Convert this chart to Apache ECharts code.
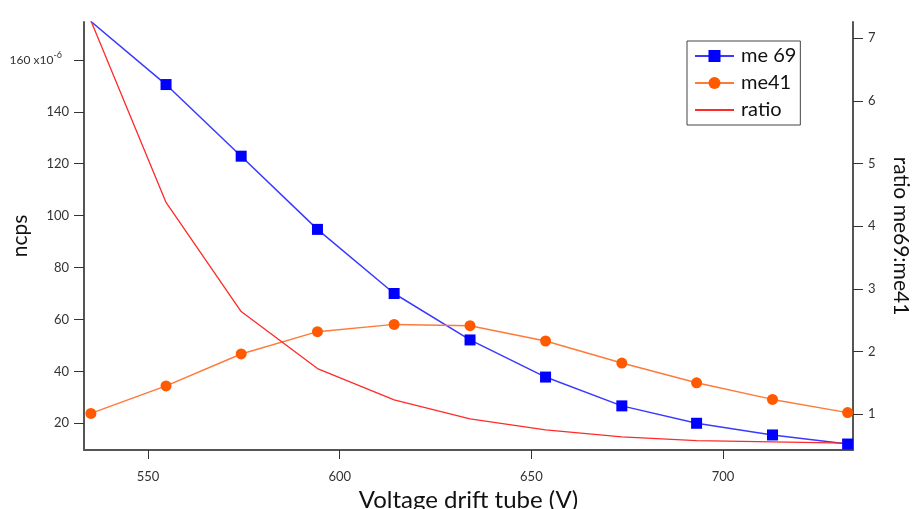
<!DOCTYPE html>
<html>
<head>
<meta charset="utf-8">
<script src="https://cdn.jsdelivr.net/npm/echarts@6/dist/echarts.min.js"></script>
<style>
  html, body { margin: 0; padding: 0; background: #fff; }
  #chart { width: 913px; height: 509px; }
</style>
</head>
<body>
<div id="chart"></div>
<script>
// voltage drift tube (V)
var voltage = [535.1, 554.7, 574.3, 594.2, 614.2, 634.0, 653.7, 673.6, 693.1, 712.9, 732.5];
// ncps (x10^-6)
var me69 = [174.8, 150.5, 122.9, 94.7, 70.0, 52.1, 37.8, 26.7, 20.0, 15.5, 12.0];
var me41 = [23.8, 34.4, 46.7, 55.3, 58.1, 57.6, 51.7, 43.2, 35.6, 29.2, 24.1];
// ratio me69:me41
var ratio = [7.28, 4.38, 2.64, 1.73, 1.23, 0.925, 0.75, 0.64, 0.58, 0.56, 0.54];

var xTicks = [550, 600, 650, 700];
var leftTicks = [20, 40, 60, 80, 100, 120, 140, 160];
var rightTicks = [1, 2, 3, 4, 5, 6, 7];

function pairs(ys) {
  return voltage.map(function (x, i) { return [x, ys[i]]; });
}

var font = 'Lato';
var axisColor = '#555';

var chart = echarts.init(document.getElementById('chart'));
chart.setOption({
  animation: false,
  textStyle: { fontFamily: font },
  grid: { left: 84, right: 60, top: 22, bottom: 59, outerBoundsMode: 'none', containLabel: false },
  legend: {
    orient: 'vertical',
    left: 687, top: 41,
    padding: [4, 4, 4, 7],
    itemGap: 5,
    itemWidth: 39, itemHeight: 15,
    borderColor: '#444', borderWidth: 1,
    textStyle: { fontSize: 20, lineHeight: 22, color: '#111', fontFamily: font, padding: [0, 0, 0, 2] },
    data: ['me 69', 'me41', { name: 'ratio', itemStyle: { opacity: 0 } }]
  },
  xAxis: {
    type: 'value',
    min: 533.3, max: 733.9,
    name: 'Voltage drift tube (V)',
    nameLocation: 'middle', nameGap: 38, nameMoveOverlap: false,
    nameTextStyle: { fontSize: 24, color: '#111' },
    splitLine: { show: false },
    axisLine: { lineStyle: { color: axisColor, width: 2 } },
    axisTick: { length: 9, customValues: xTicks, lineStyle: { color: '#333' } },
    axisLabel: { customValues: xTicks, fontSize: 13, color: '#333', margin: 20 }
  },
  yAxis: [{
    type: 'value',
    position: 'left',
    min: 9.7, max: 174.6,
    name: 'ncps',
    nameLocation: 'middle', nameGap: 53, nameMoveOverlap: false,
    nameTextStyle: { fontSize: 21, color: '#111' },
    splitLine: { show: false },
    axisLine: { show: true, lineStyle: { color: axisColor, width: 2 } },
    axisTick: { show: true, length: 10, customValues: leftTicks, lineStyle: { color: '#333' } },
    axisLabel: {
      customValues: leftTicks, fontSize: 13, color: '#333', margin: 15,
      formatter: function (v) { return v === 160 ? '{s|160 x10}{sup|-6}' : v; },
      rich: {
        s: { fontSize: 12, color: '#333', fontFamily: font },
        sup: { fontSize: 9, color: '#333', verticalAlign: 'top', padding: [0, 7, 10, 0], fontFamily: font }
      }
    }
  }, {
    type: 'value',
    position: 'right',
    min: 0.43, max: 7.26,
    name: 'ratio me69:me41',
    nameLocation: 'middle', nameGap: 37, nameRotate: -90, nameMoveOverlap: false,
    nameTextStyle: { fontSize: 21, color: '#111' },
    splitLine: { show: false },
    axisLine: { show: true, lineStyle: { color: axisColor, width: 2 } },
    axisTick: { show: true, length: 10, customValues: rightTicks, lineStyle: { color: '#333' } },
    axisLabel: { customValues: rightTicks, fontSize: 13, color: '#333', margin: 15 }
  }],
  series: [{
    name: 'me 69',
    type: 'line',
    data: pairs(me69),
    symbol: 'rect', symbolSize: 11,
    itemStyle: { color: '#0000ff' },
    lineStyle: { color: '#3a3aff', width: 1.5 }
  }, {
    name: 'me41',
    type: 'line',
    data: pairs(me41),
    symbol: 'circle', symbolSize: 11,
    itemStyle: { color: '#ff5a00' },
    lineStyle: { color: '#ff7a3a', width: 1.5 }
  }, {
    name: 'ratio',
    type: 'line',
    yAxisIndex: 1,
    data: pairs(ratio),
    symbol: 'none',
    itemStyle: { color: '#ff2020' },
    lineStyle: { color: '#ff2a2a', width: 1.3 }
  }]
});
</script>
</body>
</html>
